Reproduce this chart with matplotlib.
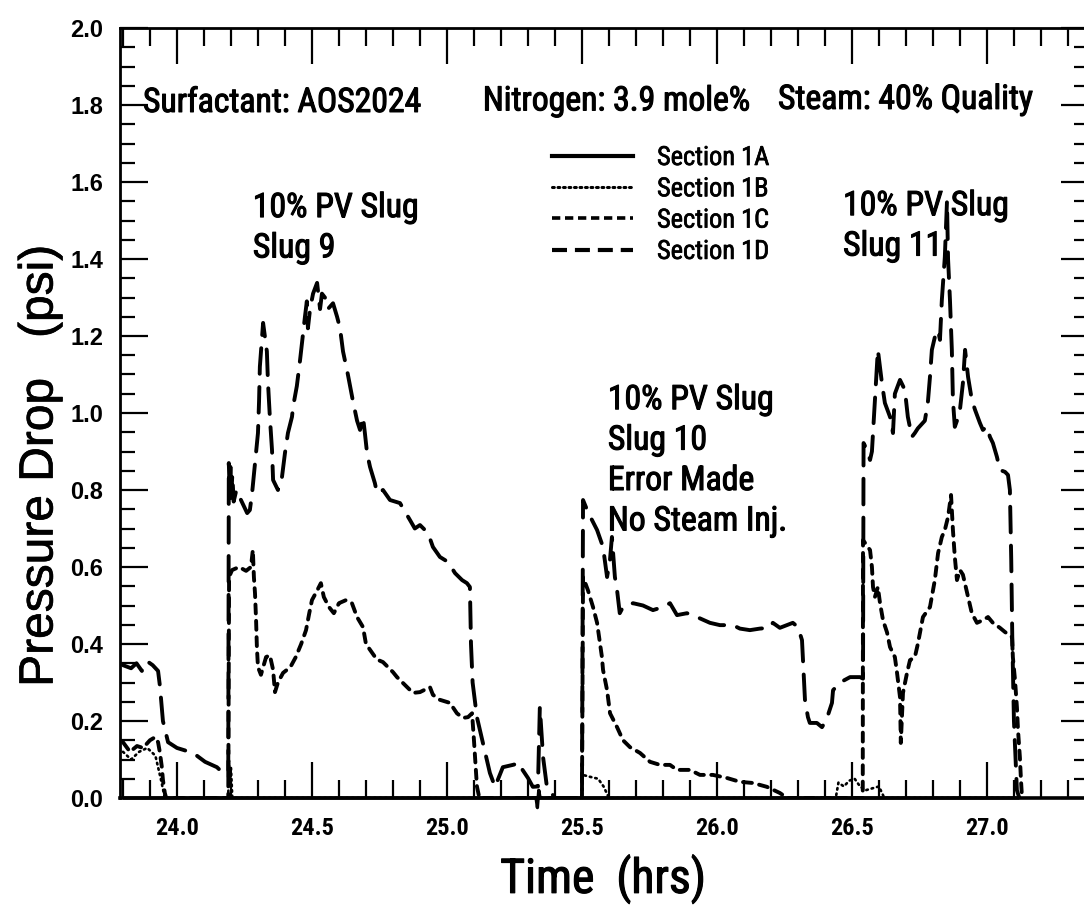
import matplotlib
matplotlib.use("Agg")
import matplotlib.pyplot as plt
from matplotlib import font_manager
from matplotlib import patheffects
from matplotlib.lines import Line2D
from matplotlib.ticker import MultipleLocator

# ---------------- data (time in hrs, pressure drop in psi) ----------------
t_1a = [23.80, 25.330, 25.335, 25.340, 25.345, 27.12]
p_1a = [0.000, 0.000, -0.025, 0.020, 0.000, 0.000]

t_1b = [23.80, 23.83, 23.86, 23.89, 23.92, 23.94, 23.955, 24.19, 24.192, 24.196,
        24.20, 24.205, 25.50, 25.503, 25.53, 25.56, 25.58, 25.60, 26.44, 26.45,
        26.47, 26.49, 26.51, 26.53, 26.55, 26.60, 26.62, 27.12]
p_1b = [0.12, 0.10, 0.12, 0.13, 0.11, 0.05, 0.00, 0.00, 0.10, 0.04,
        0.08, 0.00, 0.00, 0.06, 0.055, 0.05, 0.03, 0.00, 0.00, 0.04,
        0.03, 0.045, 0.05, 0.03, 0.02, 0.03, 0.00, 0.00]

t_1c = [23.80, 23.826, 23.852, 23.874, 23.90, 23.919, 23.93, 23.937, 23.944, 23.948,
        23.955, 23.96, 24.19,
        24.193, 24.204, 24.23, 24.256, 24.274, 24.281, 24.285, 24.289, 24.293, 24.296,
        24.30, 24.311, 24.33, 24.344, 24.356, 24.363, 24.374, 24.393, 24.42, 24.44,
        24.46, 24.478, 24.49, 24.50, 24.52, 24.533, 24.544, 24.563, 24.581, 24.60,
        24.626, 24.648, 24.667, 24.689, 24.70, 24.72, 24.74, 24.763, 24.80, 24.815,
        24.874, 24.90, 24.937, 24.948, 24.974, 25.011, 25.037, 25.059, 25.078, 25.093,
        25.10, 25.111, 25.12, 25.50,
        25.504, 25.522, 25.541, 25.556, 25.567, 25.574, 25.578, 25.593, 25.604, 25.63,
        25.652, 25.678, 25.715, 25.752, 25.789, 25.826, 25.852, 25.90, 25.937, 25.985,
        26.037, 26.085, 26.133, 26.185, 26.233, 26.26, 26.54,
        26.541, 26.567, 26.574, 26.578, 26.585, 26.596, 26.604, 26.615, 26.63, 26.641,
        26.659, 26.667, 26.678, 26.681, 26.689, 26.704, 26.715, 26.733, 26.744, 26.763,
        26.789, 26.807, 26.819, 26.833, 26.844, 26.856, 26.863, 26.867, 26.874, 26.881,
        26.889, 26.90, 26.911, 26.93, 26.944, 26.963, 26.985, 27.004, 27.022, 27.048,
        27.067, 27.093, 27.096, 27.104, 27.111, 27.115, 27.122, 27.126, 27.13]
p_1c = [0.145, 0.12, 0.135, 0.13, 0.15, 0.158, 0.145, 0.117, 0.08, 0.047,
        0.013, 0.0, 0.0,
        0.574, 0.592, 0.60, 0.59, 0.60, 0.644, 0.573, 0.532, 0.462, 0.392,
        0.34, 0.32, 0.366, 0.371, 0.333, 0.275, 0.30, 0.325, 0.34, 0.366,
        0.40, 0.436, 0.48, 0.514, 0.54, 0.558, 0.522, 0.496, 0.48, 0.506,
        0.514, 0.506, 0.47, 0.444, 0.40, 0.38, 0.36, 0.353, 0.327, 0.314,
        0.273, 0.275, 0.288, 0.268, 0.255, 0.247, 0.22, 0.208, 0.21, 0.22,
        0.15, 0.03, 0.0, 0.0,
        0.574, 0.54, 0.496, 0.455, 0.40, 0.366, 0.333, 0.28, 0.22, 0.184,
        0.15, 0.132, 0.117, 0.094, 0.086, 0.086, 0.073, 0.073, 0.06, 0.06,
        0.052, 0.042, 0.039, 0.029, 0.013, 0.0, 0.0,
        0.67, 0.644, 0.60, 0.548, 0.522, 0.548, 0.506, 0.462, 0.43, 0.392,
        0.366, 0.325, 0.262, 0.143, 0.273, 0.325, 0.358, 0.366, 0.40, 0.47,
        0.496, 0.566, 0.636, 0.678, 0.696, 0.73, 0.766, 0.787, 0.696, 0.626,
        0.566, 0.592, 0.58, 0.522, 0.48, 0.455, 0.462, 0.47, 0.455, 0.442,
        0.431, 0.418, 0.366, 0.306, 0.236, 0.177, 0.106, 0.047, 0.0]

t_1d = [23.80, 23.83, 23.85, 23.87, 23.89, 23.91, 23.93, 23.937, 23.948, 23.967,
        24.0, 24.06, 24.104, 24.148, 24.185, 24.19,
        24.192, 24.195, 24.198, 24.201, 24.205, 24.21, 24.22, 24.237, 24.26, 24.27,
        24.278, 24.289, 24.30, 24.304, 24.307, 24.319, 24.333, 24.337, 24.344, 24.352,
        24.356, 24.374, 24.389, 24.40, 24.411, 24.426, 24.43, 24.444, 24.456, 24.467,
        24.474, 24.481, 24.485, 24.493, 24.504, 24.519, 24.53, 24.537, 24.548, 24.559,
        24.578, 24.593, 24.604, 24.615, 24.633, 24.652, 24.667, 24.678, 24.689, 24.696,
        24.704, 24.715, 24.733, 24.741, 24.763, 24.789, 24.826, 24.863, 24.881, 24.90,
        24.93, 24.948, 24.974, 25.004, 25.03, 25.056, 25.074, 25.085, 25.089, 25.095,
        25.111, 25.148, 25.159, 25.178, 25.207, 25.244, 25.27, 25.28, 25.30, 25.318,
        25.337, 25.344, 25.356, 25.37, 25.40, 25.50,
        25.504, 25.522, 25.556, 25.578, 25.593, 25.604, 25.611, 25.622, 25.63, 25.64,
        25.652, 25.689, 25.726, 25.763, 25.80, 25.826, 25.852, 25.889, 25.926, 25.974,
        26.011, 26.059, 26.085, 26.122, 26.159, 26.196, 26.207, 26.233, 26.259, 26.281,
        26.30, 26.315, 26.32, 26.326, 26.337, 26.344, 26.37, 26.389, 26.40, 26.411,
        26.426, 26.43, 26.456, 26.493, 26.53, 26.541,
        26.543, 26.556, 26.567, 26.574, 26.578, 26.585, 26.596, 26.611, 26.622, 26.641,
        26.652, 26.659, 26.678, 26.696, 26.707, 26.722, 26.733, 26.744, 26.77, 26.781,
        26.789, 26.796, 26.807, 26.819, 26.826, 26.833, 26.844, 26.852, 26.856, 26.863,
        26.87, 26.874, 26.881, 26.889, 26.90, 26.911, 26.919, 26.93, 26.944, 26.956,
        26.974, 26.985, 27.0, 27.011, 27.022, 27.037, 27.048, 27.067, 27.078, 27.085,
        27.09, 27.094, 27.10, 27.111, 27.12]
p_1d = [0.345, 0.337, 0.35, 0.33, 0.355, 0.345, 0.33, 0.29, 0.20, 0.145,
        0.13, 0.117, 0.094, 0.08, 0.055, 0.055,
        0.87, 0.80, 0.86, 0.78, 0.84, 0.77, 0.80, 0.774, 0.74, 0.748,
        0.79, 0.87, 0.948, 1.03, 1.12, 1.234, 1.16, 1.08, 0.99, 0.904,
        0.826, 0.80, 0.834, 0.896, 0.948, 0.99, 1.016, 1.07, 1.138, 1.208,
        1.25, 1.29, 1.22, 1.27, 1.31, 1.338, 1.27, 1.31, 1.30, 1.27,
        1.285, 1.25, 1.22, 1.16, 1.10, 1.03, 0.98, 0.956, 0.99, 0.948,
        0.896, 0.86, 0.818, 0.792, 0.80, 0.774, 0.766, 0.722, 0.70, 0.709,
        0.688, 0.652, 0.626, 0.613, 0.584, 0.566, 0.558, 0.548, 0.40, 0.30,
        0.21, 0.099, 0.065, 0.029, 0.08, 0.086, 0.091, 0.073, 0.052, 0.029,
        0.03, 0.236, 0.106, 0.03, 0.0, 0.0,
        0.774, 0.743, 0.696, 0.652, 0.574, 0.62, 0.678, 0.574, 0.54, 0.48,
        0.496, 0.506, 0.50, 0.488, 0.496, 0.506, 0.475, 0.48, 0.47, 0.455,
        0.449, 0.449, 0.44, 0.436, 0.44, 0.442, 0.455, 0.442, 0.449, 0.455,
        0.444, 0.41, 0.34, 0.255, 0.21, 0.195, 0.195, 0.184, 0.197, 0.215,
        0.247, 0.28, 0.30, 0.314, 0.314, 0.31,
        0.922, 0.904, 0.878, 0.90, 0.948, 1.034, 1.164, 1.078, 1.026, 0.99,
        0.948, 1.05, 1.086, 1.06, 0.99, 0.938, 0.948, 0.96, 0.98, 1.026,
        1.094, 1.164, 1.197, 1.215, 1.19, 1.294, 1.405, 1.55, 1.40, 1.294,
        1.164, 1.034, 0.964, 0.98, 1.008, 1.078, 1.164, 1.094, 1.034, 1.008,
        0.974, 0.956, 0.965, 0.938, 0.922, 0.886, 0.852, 0.847, 0.839, 0.80,
        0.618, 0.41, 0.20, 0.02, 0.0]

series_labels = ["Section 1A", "Section 1B", "Section 1C", "Section 1D"]
x_ticks = [24.0, 24.5, 25.0, 25.5, 26.0, 26.5, 27.0]
x_tick_labels = ["24.0", "24.5", "25.0", "25.5", "26.0", "26.5", "27.0"]
y_ticks = [0.0, 0.2, 0.4, 0.6, 0.8, 1.0, 1.2, 1.4, 1.6, 1.8, 2.0]
y_tick_labels = ["0.0", "0.2", "0.4", "0.6", "0.8", "1.0", "1.2", "1.4", "1.6", "1.8", "2.0"]

# ---------------- fonts ----------------
ttf = font_manager.fontManager.ttflist
names = {f.name for f in ttf}
CONDENSED = ("condensed", "semi-condensed", "extra-condensed", "ultra-condensed")


def narrow_font():
    for p in ("Liberation Sans Narrow", "Arial Narrow", "Nimbus Sans Narrow",
              "Roboto Condensed", "Noto Sans Condensed", "Open Sans Condensed",
              "DejaVu Sans Condensed"):
        if p in names:
            return p, "normal"
    for f in ttf:
        if ("Narrow" in f.name or "Condensed" in f.name) and "CJK" not in f.name \
                and "Mono" not in f.name and "Serif" not in f.name:
            return f.name, "normal"
    for f in ttf:
        if f.stretch in CONDENSED and "CJK" not in f.name and "Mono" not in f.name \
                and "Serif" not in f.name:
            return f.name, f.stretch
    return None, "normal"


WIDE = "Liberation Sans" if "Liberation Sans" in names else "DejaVu Sans"
NARROW, NSTRETCH = narrow_font()
if NARROW is None:
    NARROW = WIDE

# slightly heavier strokes for the printed lettering
heavy = [patheffects.withStroke(linewidth=0.8, foreground="black")]
medium = [patheffects.withStroke(linewidth=0.5, foreground="black")]

# ---------------- figure ----------------
W, H = 1084, 907
fig = plt.figure(figsize=(W / 100, H / 100), dpi=100)
fig.patch.set_facecolor("white")
renderer = fig.canvas.get_renderer()


def fit_size(s, target_px, weight="normal", family=None):
    """Font size (pt) at which string s spans target_px pixels."""
    family = family or NARROW
    t = fig.text(0, 0, s, family=family, stretch=NSTRETCH, weight=weight, fontsize=20)
    w = t.get_window_extent(renderer).width
    t.remove()
    return 20.0 * target_px / w


ann_size = fit_size("Surfactant: AOS2024", 278)
leg_size = fit_size("Section 1A", 112)
xtick_size = fit_size("24.0", 44, weight="bold")
xlab_size = fit_size("Time  (hrs)", 206)

ax = fig.add_axes([120 / W, 1 - 798 / H, 969 / W, 770 / H])
ax.set_xlim(23.789, 27.378)
ax.set_ylim(0.0, 2.0)

style_1a = dict(color="black", lw=2.4, linestyle="-", solid_capstyle="butt")
style_1b = dict(color="black", lw=1.9, linestyle=(0, (0.6, 1.5)), dash_capstyle="round")
style_1c = dict(color="black", lw=2.8, linestyle=(0, (2.3, 1.9)), dash_capstyle="round")
style_1d = dict(color="black", lw=2.8, linestyle=(0, (6.6, 3.4)), dash_capstyle="round")

ax.plot(t_1a, p_1a, clip_on=False, zorder=4, **style_1a)
ax.plot(t_1b, p_1b, zorder=3, **style_1b)
ax.plot(t_1c, p_1c, zorder=3, **style_1c)
ax.plot(t_1d, p_1d, zorder=3, **style_1d)

# ---------------- legend ----------------
handles = [
    Line2D([], [], color="black", lw=3.0, linestyle="-"),
    Line2D([], [], color="black", lw=2.2, linestyle=(0, (0.6, 1.2)),
           dash_capstyle="round"),
    Line2D([], [], color="black", lw=2.6, linestyle=(0, (2.3, 1.3))),
    Line2D([], [], color="black", lw=3.0, linestyle=(0, (3.6, 1.9))),
]
leg_prop = font_manager.FontProperties(family=NARROW, stretch=NSTRETCH, size=leg_size)
leg_px = leg_size * 100 / 72.0
row_pitch, first_row = 31.3, 158.0          # pixel targets
hl = 81.0 / leg_px
htp = 24.0 / leg_px


def make_legend(spacing, top_px):
    return ax.legend(handles, series_labels, loc="upper left",
                     bbox_to_anchor=((552 - 120) / 969, 1 - (top_px - 28) / 770),
                     frameon=False, borderpad=0, borderaxespad=0,
                     handlelength=hl, handletextpad=htp, labelspacing=spacing,
                     prop=leg_prop)


spacing, top = 0.2, 144.0
leg = make_legend(spacing, top)
for _ in range(2):
    fig.canvas.draw()
    cy = [H - (t.get_window_extent(renderer).y0 + t.get_window_extent(renderer).y1) / 2
          for t in leg.get_texts()]
    pitch = (cy[-1] - cy[0]) / 3.0
    spacing += (row_pitch - pitch) / leg_px
    top += first_row - cy[0]
    leg.remove()
    leg = make_legend(spacing, top)
for t in leg.get_texts():
    t.set_path_effects(medium)

# ---------------- ticks ----------------
ax.set_xticks(x_ticks)
ax.set_xticklabels(x_tick_labels, fontfamily=NARROW, fontstretch=NSTRETCH,
                   fontweight="bold", fontsize=xtick_size)
ax.set_yticks(y_ticks)
ax.set_yticklabels(y_tick_labels, fontfamily=WIDE, fontweight="bold", fontsize=17)
ax.xaxis.set_minor_locator(MultipleLocator(0.1))
ax.yaxis.set_minor_locator(MultipleLocator(0.05))
ax.tick_params(which="both", direction="in", top=True, right=True, color="black")
ax.tick_params(axis="x", which="major", length=26, width=1.6, pad=14)
ax.tick_params(axis="x", which="minor", length=13, width=1.6)
ax.tick_params(axis="y", which="major", length=20, width=1.6, pad=12)
ax.tick_params(axis="y", which="minor", length=11, width=1.6)
for s in ax.spines.values():
    s.set_linewidth(2.0)
ax.spines["bottom"].set_linewidth(2.6)

# ---------------- annotations ----------------
txt = dict(family=NARROW, stretch=NSTRETCH, fontsize=ann_size, color="black",
           va="baseline", ha="left", path_effects=heavy)
ax.text(23.874, 1.782, "Surfactant: AOS2024", **txt)
ax.text(25.133, 1.786, "Nitrogen: 3.9 mole%", **txt)
ax.text(26.226, 1.790, "Steam: 40% Quality", **txt)

step = 0.105
for i, line in enumerate(["10% PV Slug", "Slug 9"]):
    ax.text(24.281, 1.509 - i * step, line, **txt)
for i, line in enumerate(["10% PV Slug", "Slug 10", "Error Made", "No Steam Inj."]):
    ax.text(25.596, 1.010 - i * step, line, **txt)
for i, line in enumerate(["10% PV Slug", "Slug 11"]):
    ax.text(26.467, 1.514 - i * step, line, **txt)

fig.text(603 / W, 1 - 879 / H, "Time  (hrs)", family=NARROW, stretch=NSTRETCH,
         fontsize=xlab_size, ha="center", va="center", path_effects=heavy)
fig.text(40 / W, 1 - 466 / H, "Pressure Drop   (psi)", family=WIDE, fontsize=34.5,
         rotation=90, ha="center", va="center", path_effects=medium)

fig.savefig("out.png", dpi=100, facecolor="white")
